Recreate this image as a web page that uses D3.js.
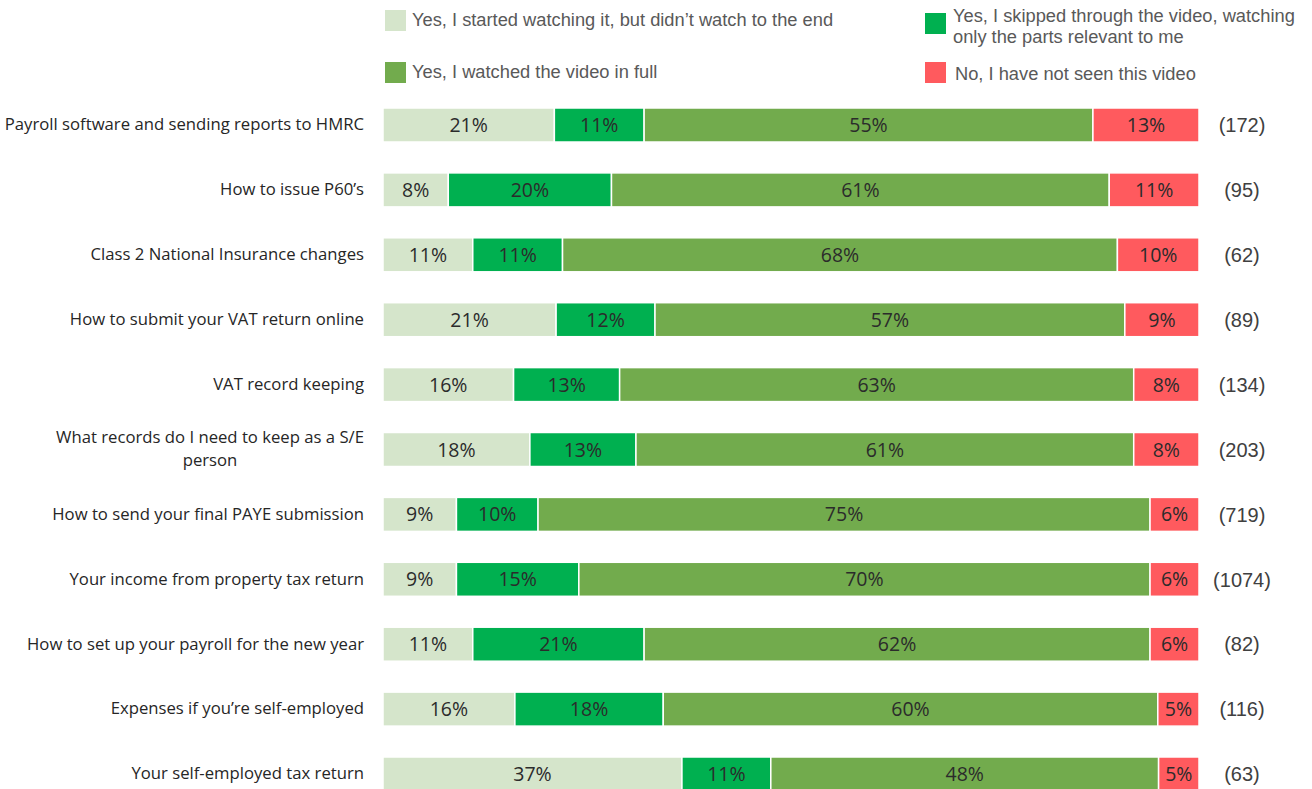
<!DOCTYPE html>
<html>
<head>
<meta charset="utf-8">
<script src="https://cdn.jsdelivr.net/npm/d3@7"></script>
<style>
  html, body { margin: 0; padding: 0; background: #fff; }
  svg { display: block; }
</style>
</head>
<body>
<svg id="chart" width="1312" height="789"></svg>
<script>
// Survey topics, top to bottom
const categories = [
  "Payroll software and sending reports to HMRC",
  "How to issue P60\u2019s",
  "Class 2 National Insurance changes",
  "How to submit your VAT return online",
  "VAT record keeping",
  "What records do I need to keep as a S/E person",
  "How to send your final PAYE submission",
  "Your income from property tax return",
  "How to set up your payroll for the new year",
  "Expenses if you\u2019re self-employed",
  "Your self-employed tax return"
];

// Response shares (%) per topic
const startedNotFinished = [21, 8, 11, 21, 16, 18, 9, 9, 11, 16, 37];
const skippedThrough     = [11, 20, 11, 12, 13, 13, 10, 15, 21, 18, 11];
const watchedFull        = [55, 61, 68, 57, 63, 61, 75, 70, 62, 60, 48];
const notSeen            = [13, 11, 10, 9, 8, 8, 6, 6, 6, 5, 5];

// Respondents per topic
const respondents = [172, 95, 62, 89, 134, 203, 719, 1074, 82, 116, 63];

const seriesKeys = ["started", "skipped", "full", "notseen"];
const seriesNames = {
  started: "Yes, I started watching it, but didn\u2019t watch to the end",
  skipped: "Yes, I skipped through the video, watching only the parts relevant to me",
  full: "Yes, I watched the video in full",
  notseen: "No, I have not seen this video"
};
const colors = {
  started: "#D5E5CB",
  skipped: "#00B050",
  full: "#72AB4D",
  notseen: "#FF5A5E"
};

const rows = categories.map((c, i) => ({
  category: c,
  started: startedNotFinished[i],
  skipped: skippedThrough[i],
  full: watchedFull[i],
  notseen: notSeen[i],
  n: respondents[i]
}));

// 100% stacked: each row normalised by its own total
const stacked = rows.map(r => {
  const total = seriesKeys.reduce((s, k) => s + r[k], 0);
  let acc = 0;
  return seriesKeys.map(k => {
    const seg = { key: k, value: r[k], category: r.category, x0: acc / total, x1: (acc + r[k]) / total };
    acc += r[k];
    return seg;
  });
});

const svg = d3.select("#chart");

const x = d3.scaleLinear().domain([0, 1]).range([383, 1199]);
const step = 64.9;
const y = d3.scaleBand()
  .domain(categories)
  .range([92.55, 92.55 + step * categories.length])
  .paddingInner(0.476)
  .paddingOuter(0.238);

const labelFont = "'Open Sans', 'Noto Sans', sans-serif";
const arialFont = "'Liberation Sans', Arial, sans-serif";

// Bars
const rowG = svg.append("g").selectAll("g")
  .data(stacked)
  .join("g");

rowG.selectAll("rect")
  .data(d => d)
  .join("rect")
  .attr("x", d => x(d.x0))
  .attr("y", d => y(d.category))
  .attr("width", d => x(d.x1) - x(d.x0))
  .attr("height", y.bandwidth())
  .attr("fill", d => colors[d.key])
  .attr("stroke", "#fff")
  .attr("stroke-width", 1.5);

// Value labels inside segments
rowG.selectAll("text")
  .data(d => d)
  .join("text")
  .attr("x", d => (x(d.x0) + x(d.x1)) / 2)
  .attr("y", d => y(d.category) + y.bandwidth() / 2)
  .attr("dy", "0.36em")
  .attr("text-anchor", "middle")
  .attr("font-family", labelFont)
  .attr("font-size", 19.5)
  .attr("fill", "#2b2b2b")
  .text(d => d.value + "%");

// Category axis labels
const wrapped = {
  "What records do I need to keep as a S/E person": ["What records do I need to keep as a S/E", "person"]
};
const yAxis = svg.append("g")
  .attr("transform", "translate(364,0)")
  .call(d3.axisLeft(y).tickSize(0).tickPadding(0));
yAxis.select(".domain").remove();
yAxis.selectAll(".tick text")
  .attr("font-family", labelFont)
  .attr("font-size", 16.7)
  .attr("fill", "#262626")
  .each(function (d) {
    const lines = wrapped[d];
    if (!lines) return;
    const t = d3.select(this);
    t.text(null).attr("dy", null).attr("text-anchor", "middle");
    const spans = lines.map((line, i) =>
      t.append("tspan").attr("dy", i === 0 ? "-0.42em" : "1.38em").text(line));
    // centre every line on the widest one, block right-aligned
    const widest = d3.max(spans, s => s.node().getComputedTextLength());
    spans.forEach(s => s.attr("x", -widest / 2));
  });

// Respondent counts
svg.append("g").selectAll("text")
  .data(rows)
  .join("text")
  .attr("x", 1242)
  .attr("y", d => y(d.category) + y.bandwidth() / 2)
  .attr("dy", "0.36em")
  .attr("text-anchor", "middle")
  .attr("font-family", arialFont)
  .attr("font-size", 20)
  .attr("fill", "#404040")
  .text(d => `(${d.n})`);

// Legend
const legendItems = [
  { key: "started", x: 385, y: 10, tx: 412, lines: [seriesNames.started], ly: [20] },
  { key: "full", x: 385, y: 62, tx: 412, lines: [seriesNames.full], ly: [72] },
  { key: "skipped", x: 925, y: 13, tx: 953, lines: ["Yes, I skipped through the video, watching", "only the parts relevant to me"], ly: [16, 37] },
  { key: "notseen", x: 925, y: 62, tx: 955, lines: [seriesNames.notseen], ly: [74] }
];
const lg = svg.append("g").selectAll("g").data(legendItems).join("g");
lg.append("rect")
  .attr("x", d => d.x).attr("y", d => d.y)
  .attr("width", 21).attr("height", 21)
  .attr("fill", d => colors[d.key]);
lg.append("text")
  .attr("font-family", arialFont)
  .attr("font-size", 18.3)
  .attr("fill", "#595959")
  .each(function (d) {
    const t = d3.select(this);
    d.lines.forEach((line, i) => {
      t.append("tspan")
        .attr("x", d.tx)
        .attr("y", d.ly[i])
        .attr("dy", "0.35em")
        .text(line);
    });
  });
</script>
</body>
</html>
